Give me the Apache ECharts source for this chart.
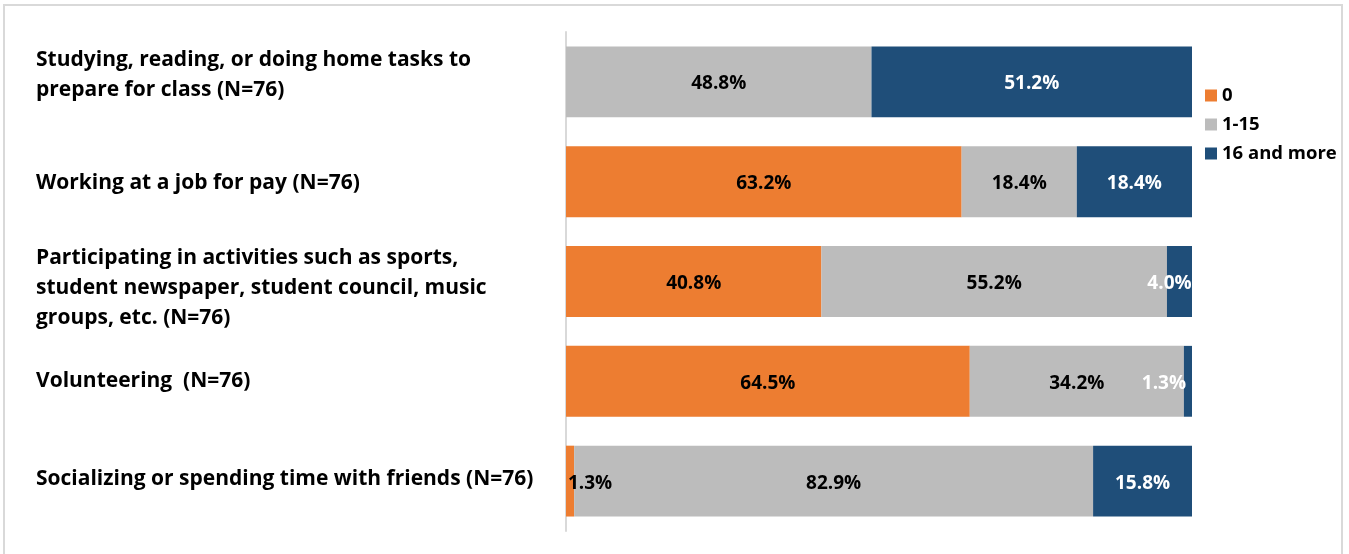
<!DOCTYPE html>
<html>
<head>
<meta charset="utf-8">
<script src="https://cdn.jsdelivr.net/npm/echarts@6/dist/echarts.min.js"></script>
<style>
  html, body { margin: 0; padding: 0; background: #ffffff; }
  #chart { width: 1349px; height: 554px; }
</style>
</head>
<body>
<div id="chart"></div>
<script>
// ---- data ----
const categories = [
  'Studying, reading, or doing home tasks to\nprepare for class (N=76)',
  'Working at a job for pay (N=76)',
  'Participating in activities such as sports,\nstudent newspaper, student council, music\ngroups, etc. (N=76)',
  'Volunteering  (N=76)',
  'Socializing or spending time with friends (N=76)'
];
const seriesNames = ['0', '1-15', '16 and more'];
const zeroHours = [0, 63.2, 40.8, 64.5, 1.3];
const oneToFifteen = [48.8, 18.4, 55.2, 34.2, 82.9];
const sixteenPlus = [51.2, 18.4, 4.0, 1.3, 15.8];

// ---- styling ----
const FONT = "'Open Sans', 'Noto Sans', sans-serif";
const colors = ['#ED7D31', '#BCBCBC', '#1F4E79'];
const labelColors = ['#000000', '#000000', '#ffffff'];
// horizontal nudges for labels of very thin segments (series index -> row index -> px)
const labelNudge = { 0: { 4: 20 }, 2: { 2: -10, 3: -24 } };
// vertical shift of category label blocks (row index -> px, negative = up)
const categoryShift = { 0: -7, 1: 1, 2: 6.5, 4: -2 };

const values = [zeroHours, oneToFifteen, sixteenPlus];

const series = values.map((arr, si) => ({
  name: seriesNames[si],
  type: 'bar',
  stack: 'total',
  barWidth: '71%',
  itemStyle: { color: colors[si] },
  label: {
    show: true,
    position: 'inside',
    color: labelColors[si],
    fontFamily: FONT,
    fontWeight: 'bold',
    fontSize: 19,
    offset: [0, 2],
    formatter: p => (p.value > 0 ? p.value.toFixed(1) + '%' : '')
  },
  data: arr.map((v, ri) => {
    const nudge = labelNudge[si] && labelNudge[si][ri];
    return nudge ? { value: v, label: { offset: [nudge, 2] } } : v;
  })
}));

// build rich spacer styles for shifting label blocks vertically
const rich = {};
Object.keys(categoryShift).forEach(k => {
  const h = Math.abs(categoryShift[k]) * 2;
  rich['sp' + k] = { fontSize: 1, height: h, lineHeight: h };
});

const chart = echarts.init(document.getElementById('chart'), null, { renderer: 'canvas' });
chart.setOption({
  animation: false,
  backgroundColor: '#ffffff',
  graphic: [{
    type: 'rect',
    shape: { x: 4, y: 5, width: 1338, height: 580 },
    style: { fill: 'none', stroke: '#D9D9D9', lineWidth: 2 },
    silent: true,
    z: -10
  }],
  legend: {
    orient: 'vertical',
    left: 1205,
    top: 86,
    padding: 0,
    itemWidth: 12,
    itemHeight: 12,
    itemGap: 10,
    icon: 'rect',
    data: seriesNames,
    textStyle: { fontFamily: FONT, fontWeight: 'bold', fontSize: 18.5, color: '#000', lineHeight: 19 }
  },
  grid: { left: 566, right: 157, top: 32, bottom: 23, containLabel: false, outerBoundsMode: 'none' },
  xAxis: {
    type: 'value', min: 0, max: 100,
    show: false
  },
  yAxis: {
    type: 'category',
    inverse: true,
    data: categories,
    axisLine: { show: true, lineStyle: { color: '#D9D9D9', width: 2 } },
    axisTick: { show: false },
    splitLine: { show: false },
    axisLabel: {
      align: 'left',
      verticalAlign: 'middle',
      margin: 530,
      fontFamily: FONT,
      fontWeight: 'bold',
      fontSize: 21,
      lineHeight: 30,
      color: '#000000',
      rich: rich,
      formatter: (value, index) => {
        const s = categoryShift[index];
        if (!s) return value;
        const spacer = '{sp' + index + '| }';
        return s < 0 ? value + '\n' + spacer : spacer + '\n' + value;
      }
    }
  },
  series: series
});
</script>
</body>
</html>
